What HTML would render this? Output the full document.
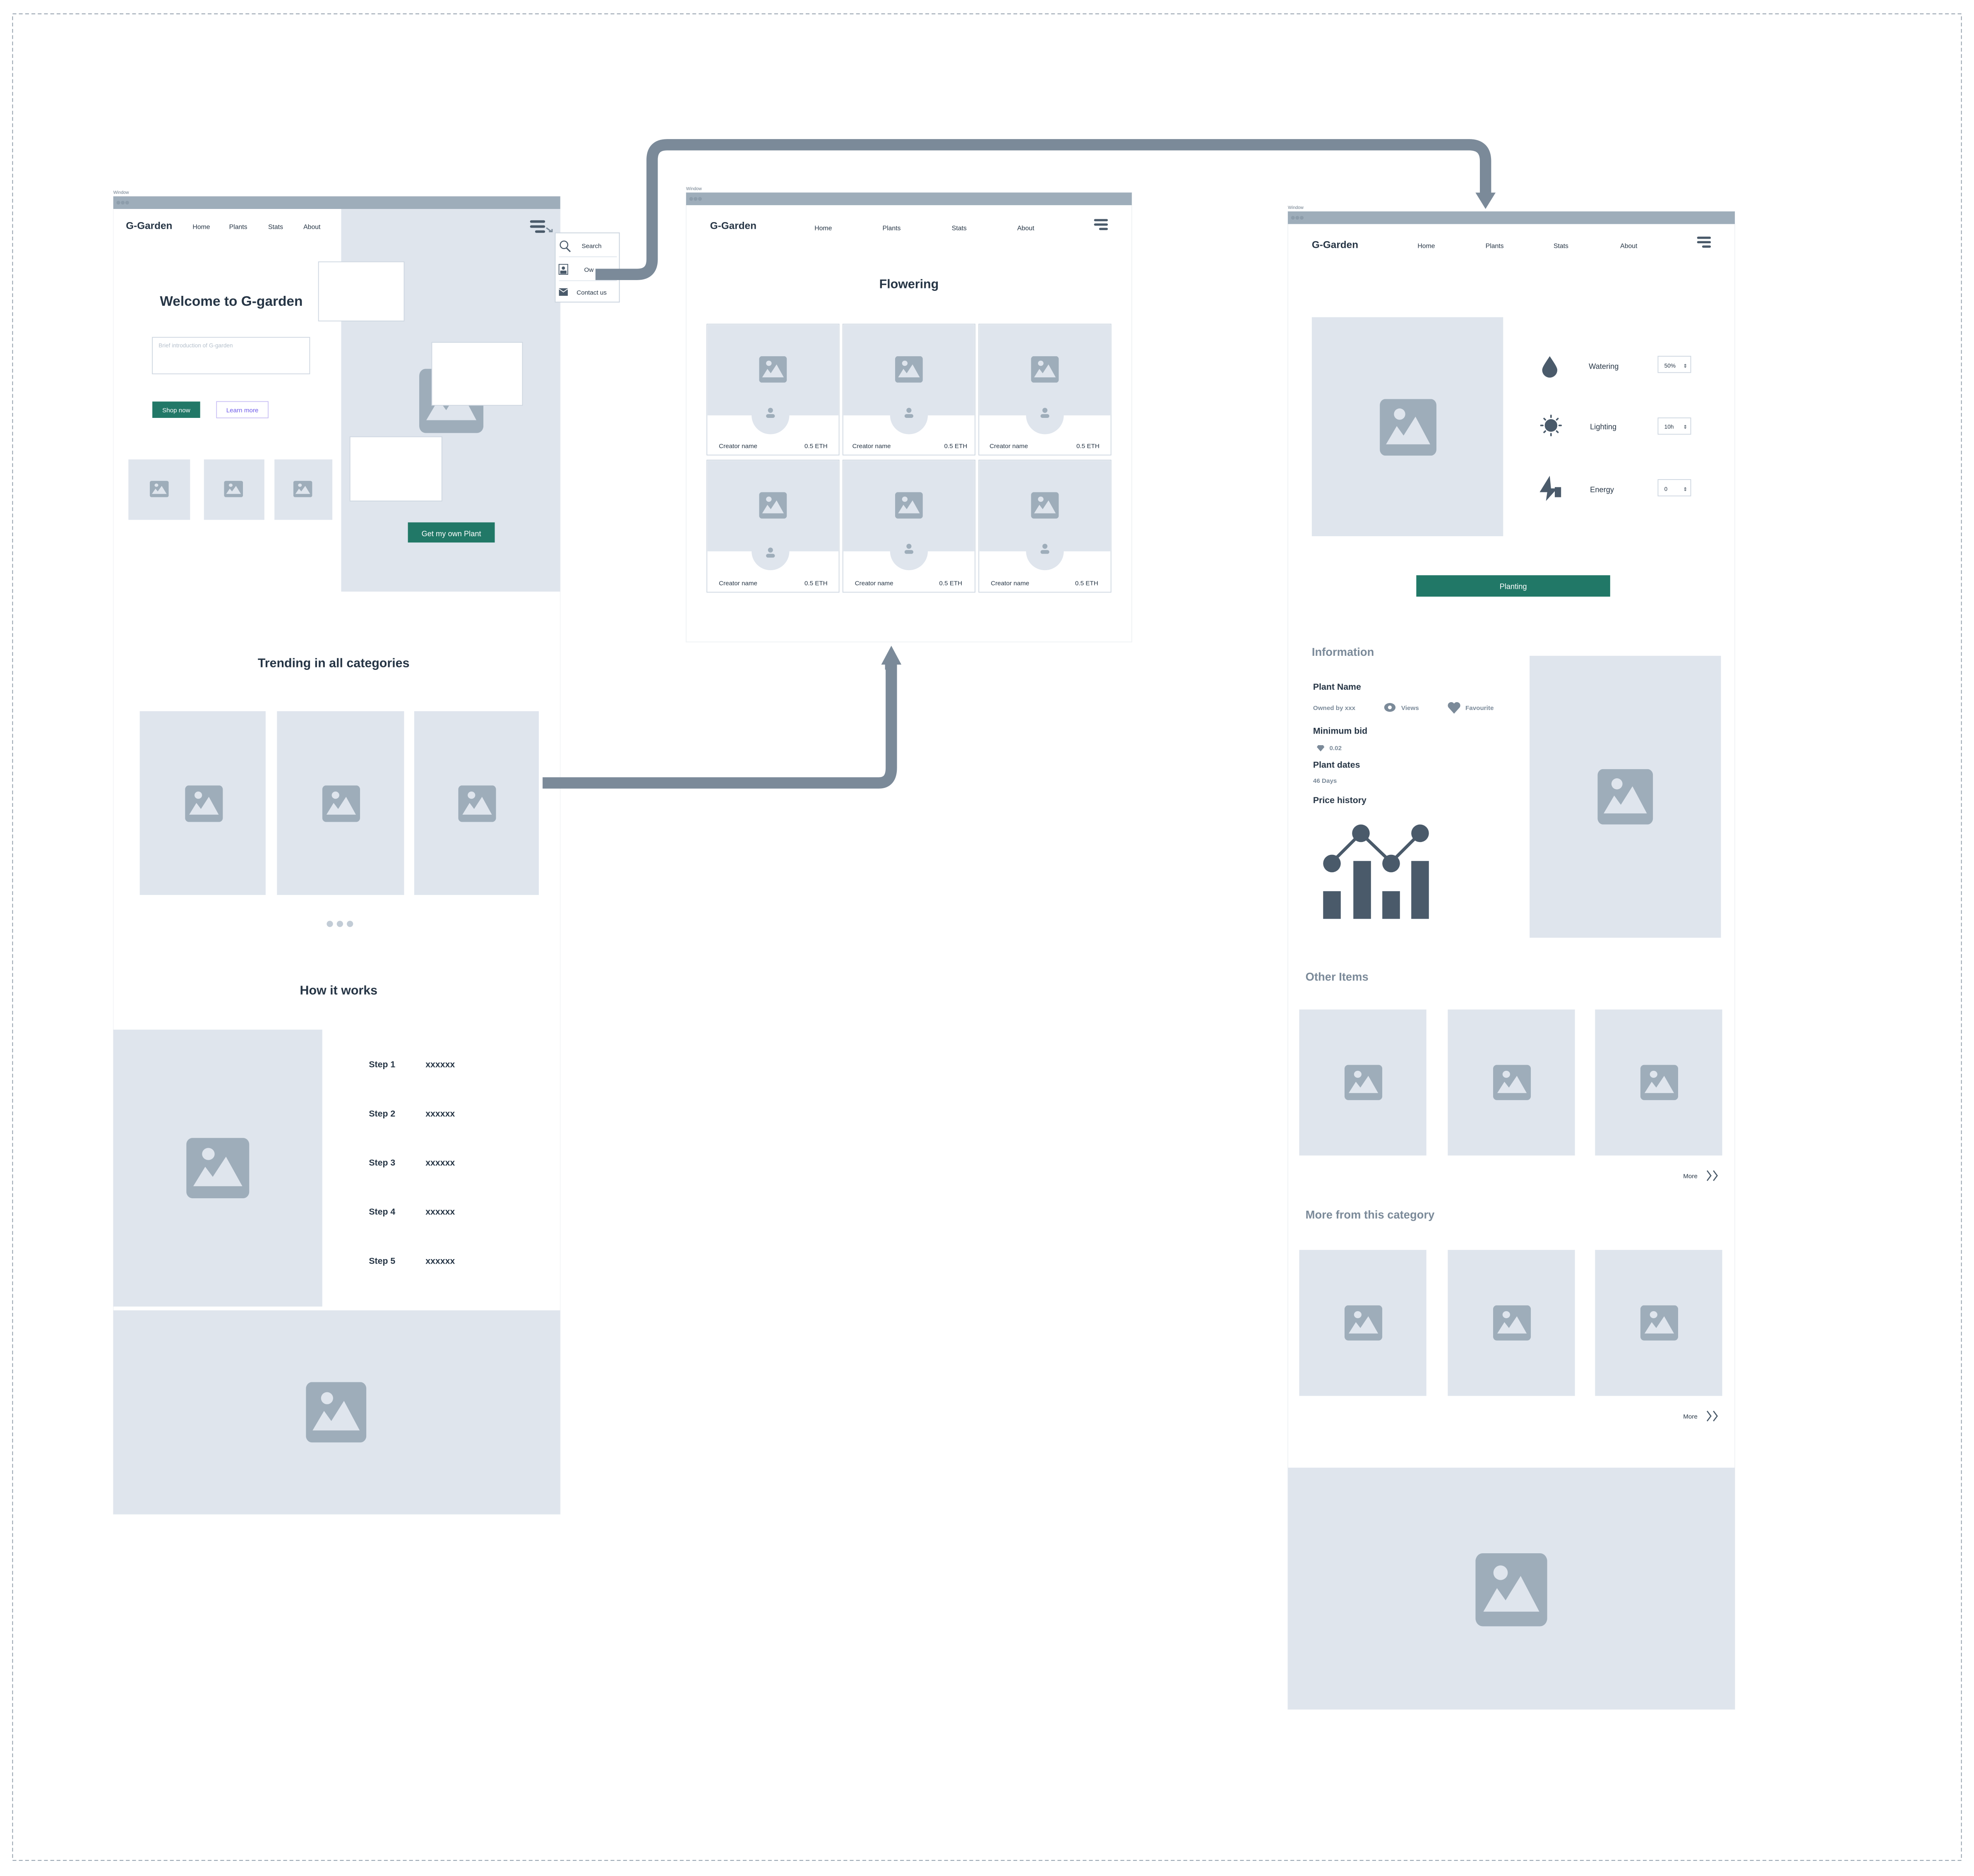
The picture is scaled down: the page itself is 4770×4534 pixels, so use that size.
<!DOCTYPE html>
<html><head><meta charset="utf-8"><style>
html,body{margin:0;padding:0;background:#fff}
svg{display:block}
text{font-family:"Liberation Sans Narrow","Liberation Sans",sans-serif}
.b{font-weight:bold}
</style></head><body>
<svg width="4770" height="4534" viewBox="0 0 1568 1490.4" preserveAspectRatio="none" xmlns="http://www.w3.org/2000/svg">
<defs>
<symbol id="img" viewBox="0 0 100 90" preserveAspectRatio="none">
<rect x="0" y="0" width="100" height="90" rx="10" fill="#9eadba"/>
<ellipse cx="35" cy="24" rx="10" ry="9" fill="#dfe5ed"/>
<polygon points="11,72 30,43 42,58 63,28 89,72" fill="#dfe5ed"/>
</symbol>
<symbol id="user" viewBox="0 0 20 20">
<circle cx="10" cy="6" r="4" fill="#9eadba"/>
<rect x="3" y="12" width="14" height="6" rx="3" fill="#9eadba"/>
</symbol>
</defs>
<rect x="0" y="0" width="1568" height="1490.4" fill="#fff"/>
<rect x="10" y="11" width="1548" height="1467" fill="none" stroke="#8a97a5" stroke-width="0.6" stroke-dasharray="3,2"/>

<!-- WINDOW 1 -->
<text x="90" y="154" font-size="3.5" fill="#6b7a89">Window</text>
<rect x="90" y="156" width="355" height="1047" fill="#fff" stroke="#f1f3f5" stroke-width="0.5"/>
<rect x="90" y="156" width="355" height="10" fill="#9eadba"/>
<circle cx="94" cy="161" r="1.5" fill="#8d9dab"/><circle cx="97.5" cy="161" r="1.5" fill="#8d9dab"/><circle cx="101" cy="161" r="1.5" fill="#8d9dab"/>
<rect x="271" y="166" width="174" height="304" fill="#dfe5ed"/>
<text x="100" y="182" font-size="8" class="b" fill="#263545">G-Garden</text>
<text x="153" y="182" font-size="5.2" fill="#263545">Home</text>
<text x="182" y="182" font-size="5.2" fill="#263545">Plants</text>
<text x="213" y="182" font-size="5.2" fill="#263545">Stats</text>
<text x="241" y="182" font-size="5.2" fill="#263545">About</text>
<rect x="421" y="175" width="12" height="2" rx="1" fill="#4a5a6a"/><rect x="421" y="179" width="12" height="2" rx="1" fill="#4a5a6a"/><rect x="425" y="183" width="8" height="2" rx="1" fill="#4a5a6a"/>
<path d="M434 181 L438 184 M436 184 H438.5 V182" stroke="#7b8a99" stroke-width="1" fill="none"/>
<!-- image under boxes -->
<use href="#img" x="333" y="293" width="51" height="51"/>
<rect x="253" y="208" width="68" height="47" fill="#fff" stroke="#cdd6e0" stroke-width="0.6"/>
<rect x="343" y="272" width="72" height="50" fill="#fff" stroke="#cdd6e0" stroke-width="0.6"/>
<rect x="278" y="347" width="73" height="51" fill="#fff" stroke="#cdd6e0" stroke-width="0.6"/>
<text x="127" y="243" font-size="11" class="b" fill="#263545">Welcome to G-garden</text>
<rect x="121" y="268" width="125" height="29" fill="#fff" stroke="#cdd6e0" stroke-width="0.6"/>
<text x="126" y="276" font-size="4.5" fill="#b5c0cc">Brief introduction of G-garden</text>
<rect x="121" y="319" width="38" height="13" fill="#217867"/>
<text x="140" y="327.5" font-size="5" fill="#fff" text-anchor="middle">Shop now</text>
<rect x="172" y="319" width="41" height="13" fill="#fff" stroke="#c9c0f4" stroke-width="0.6"/>
<text x="192.5" y="327.5" font-size="5" fill="#6b57e8" text-anchor="middle">Learn more</text>
<rect x="102" y="365" width="49" height="48" fill="#dfe5ed"/><use href="#img" x="119" y="382" width="15" height="13"/>
<rect x="162" y="365" width="48" height="48" fill="#dfe5ed"/><use href="#img" x="178" y="382" width="15" height="13"/>
<rect x="218" y="365" width="46" height="48" fill="#dfe5ed"/><use href="#img" x="233" y="382" width="15" height="13"/>
<rect x="324" y="415" width="69" height="16" fill="#217867"/>
<text x="358.5" y="426" font-size="6" fill="#fff" text-anchor="middle">Get my own Plant</text>
<!-- dropdown -->
<rect x="441" y="185" width="51" height="55" fill="#fff" stroke="#cdd6e0" stroke-width="0.7"/>
<circle cx="448" cy="194.5" r="3" fill="none" stroke="#4a5a6a" stroke-width="0.8"/><path d="M450 197 L453 200" stroke="#4a5a6a" stroke-width="1"/>
<text x="462" y="197" font-size="5" fill="#263545">Search</text>
<line x1="444" y1="204" x2="490" y2="204" stroke="#dfe5ed" stroke-width="0.6"/>
<rect x="444" y="210" width="7" height="8" fill="none" stroke="#4a5a6a" stroke-width="0.6"/><circle cx="447.5" cy="213" r="1.3" fill="#4a5a6a"/><rect x="445" y="215" width="5" height="2.5" fill="#4a5a6a"/>
<text x="464" y="216" font-size="5" fill="#263545">Ow</text>
<line x1="444" y1="223" x2="490" y2="223" stroke="#dfe5ed" stroke-width="0.6"/>
<rect x="444" y="229" width="7" height="6" fill="#4a5a6a"/><path d="M444 229.5 L447.5 232 L451 229.5" stroke="#fff" stroke-width="0.6" fill="none"/>
<text x="458" y="234" font-size="5" fill="#263545">Contact us</text>
<text x="265" y="530" font-size="10" class="b" fill="#263545" text-anchor="middle">Trending in all categories</text>
<rect x="111" y="565" width="100" height="146" fill="#dfe5ed"/><use href="#img" x="147" y="624" width="30" height="29"/>
<rect x="220" y="565" width="101" height="146" fill="#dfe5ed"/><use href="#img" x="256" y="624" width="30" height="29"/>
<rect x="329" y="565" width="99" height="146" fill="#dfe5ed"/><use href="#img" x="364" y="624" width="30" height="29"/>
<circle cx="262" cy="734" r="2.5" fill="#c2ccd6"/><circle cx="270" cy="734" r="2.5" fill="#c2ccd6"/><circle cx="278" cy="734" r="2.5" fill="#c2ccd6"/>
<text x="269" y="790" font-size="10" class="b" fill="#263545" text-anchor="middle">How it works</text>
<rect x="90" y="818" width="166" height="220" fill="#dfe5ed"/><use href="#img" x="148" y="904" width="50" height="48"/>
<g font-size="7" class="b" fill="#263545">
<text x="293" y="848">Step 1</text><text x="338" y="848">xxxxxx</text>
<text x="293" y="887">Step 2</text><text x="338" y="887">xxxxxx</text>
<text x="293" y="926">Step 3</text><text x="338" y="926">xxxxxx</text>
<text x="293" y="965">Step 4</text><text x="338" y="965">xxxxxx</text>
<text x="293" y="1004">Step 5</text><text x="338" y="1004">xxxxxx</text>
</g>
<rect x="90" y="1041" width="355" height="162" fill="#dfe5ed"/><use href="#img" x="243" y="1098" width="48" height="48"/>

<!-- WINDOW 2 -->
<text x="545" y="151" font-size="3.5" fill="#6b7a89">Window</text>
<rect x="545" y="153" width="354" height="357" fill="#fff" stroke="#eef1f4" stroke-width="0.6"/>
<rect x="545" y="153" width="354" height="10" fill="#9eadba"/>
<circle cx="549" cy="158" r="1.5" fill="#8d9dab"/><circle cx="552.5" cy="158" r="1.5" fill="#8d9dab"/><circle cx="556" cy="158" r="1.5" fill="#8d9dab"/>
<text x="564" y="182" font-size="8" class="b" fill="#263545">G-Garden</text>
<text x="647" y="183" font-size="5.2" fill="#263545">Home</text>
<text x="701" y="183" font-size="5.2" fill="#263545">Plants</text>
<text x="756" y="183" font-size="5.2" fill="#263545">Stats</text>
<text x="808" y="183" font-size="5.2" fill="#263545">About</text>
<rect x="869" y="174" width="11" height="1.8" rx="0.9" fill="#4a5a6a"/><rect x="869" y="177.5" width="11" height="1.8" rx="0.9" fill="#4a5a6a"/><rect x="873" y="181" width="7" height="1.8" rx="0.9" fill="#4a5a6a"/>
<text x="722" y="229" font-size="10" class="b" fill="#263545" text-anchor="middle">Flowering</text>
<g font-size="5" fill="#263545">
<!-- row 1 -->
<rect x="561.5" y="257.5" width="105" height="104" fill="#fff" stroke="#cdd6e0" stroke-width="0.6"/><rect x="562" y="258" width="104" height="72" fill="#dfe5ed"/><circle cx="612" cy="330" r="15" fill="#dfe5ed"/><use href="#user" x="607" y="323" width="10" height="10"/><use href="#img" x="603" y="283" width="22" height="21"/><text x="571" y="356">Creator name</text><text x="639" y="356">0.5 ETH</text>
<rect x="669.5" y="257.5" width="105" height="104" fill="#fff" stroke="#cdd6e0" stroke-width="0.6"/><rect x="670" y="258" width="104" height="72" fill="#dfe5ed"/><circle cx="722" cy="330" r="15" fill="#dfe5ed"/><use href="#user" x="717" y="323" width="10" height="10"/><use href="#img" x="711" y="283" width="22" height="21"/><text x="677" y="356">Creator name</text><text x="750" y="356">0.5 ETH</text>
<rect x="777.5" y="257.5" width="105" height="104" fill="#fff" stroke="#cdd6e0" stroke-width="0.6"/><rect x="778" y="258" width="104" height="72" fill="#dfe5ed"/><circle cx="830" cy="330" r="15" fill="#dfe5ed"/><use href="#user" x="825" y="323" width="10" height="10"/><use href="#img" x="819" y="283" width="22" height="21"/><text x="786" y="356">Creator name</text><text x="855" y="356">0.5 ETH</text>
<!-- row 2 -->
<rect x="561.5" y="365.5" width="105" height="105" fill="#fff" stroke="#cdd6e0" stroke-width="0.6"/><rect x="562" y="366" width="104" height="72" fill="#dfe5ed"/><circle cx="612" cy="438" r="15" fill="#dfe5ed"/><use href="#user" x="607" y="434" width="10" height="10"/><use href="#img" x="603" y="391" width="22" height="21"/><text x="571" y="465">Creator name</text><text x="639" y="465">0.5 ETH</text>
<rect x="669.5" y="365.5" width="105" height="105" fill="#fff" stroke="#cdd6e0" stroke-width="0.6"/><rect x="670" y="366" width="104" height="72" fill="#dfe5ed"/><circle cx="722" cy="438" r="15" fill="#dfe5ed"/><use href="#user" x="717" y="431" width="10" height="10"/><use href="#img" x="711" y="391" width="22" height="21"/><text x="679" y="465">Creator name</text><text x="746" y="465">0.5 ETH</text>
<rect x="777.5" y="365.5" width="105" height="105" fill="#fff" stroke="#cdd6e0" stroke-width="0.6"/><rect x="778" y="366" width="104" height="72" fill="#dfe5ed"/><circle cx="830" cy="438" r="15" fill="#dfe5ed"/><use href="#user" x="825" y="431" width="10" height="10"/><use href="#img" x="819" y="391" width="22" height="21"/><text x="787" y="465">Creator name</text><text x="854" y="465">0.5 ETH</text>
</g>

<!-- WINDOW 3 -->
<text x="1023" y="166" font-size="3.5" fill="#6b7a89">Window</text>
<rect x="1023" y="168" width="355" height="1190" fill="#fff" stroke="#eef1f4" stroke-width="0.6"/>
<rect x="1023" y="168" width="355" height="10" fill="#9eadba"/>
<circle cx="1027" cy="173" r="1.5" fill="#8d9dab"/><circle cx="1030.5" cy="173" r="1.5" fill="#8d9dab"/><circle cx="1034" cy="173" r="1.5" fill="#8d9dab"/>
<text x="1042" y="197" font-size="8" class="b" fill="#263545">G-Garden</text>
<text x="1126" y="197" font-size="5.2" fill="#263545">Home</text>
<text x="1180" y="197" font-size="5.2" fill="#263545">Plants</text>
<text x="1234" y="197" font-size="5.2" fill="#263545">Stats</text>
<text x="1287" y="197" font-size="5.2" fill="#263545">About</text>
<rect x="1348" y="188" width="11" height="1.8" rx="0.9" fill="#4a5a6a"/><rect x="1348" y="191.5" width="11" height="1.8" rx="0.9" fill="#4a5a6a"/><rect x="1352" y="195" width="7" height="1.8" rx="0.9" fill="#4a5a6a"/>
<rect x="1042" y="252" width="152" height="174" fill="#dfe5ed"/><use href="#img" x="1096" y="317" width="45" height="45"/>
<path d="M1231 283 C1227 289 1225 292 1225 294 A6 6 0 0 0 1237 294 C1237 292 1235 289 1231 283Z" fill="#4a5a6a"/>
<circle cx="1232" cy="338" r="5" fill="#4a5a6a"/>
<g stroke="#4a5a6a" stroke-width="1.2" stroke-linecap="round"><line x1="1232" y1="330" x2="1232" y2="331.5"/><line x1="1232" y1="344.5" x2="1232" y2="346"/><line x1="1224" y1="338" x2="1225.5" y2="338"/><line x1="1238.5" y1="338" x2="1240" y2="338"/><line x1="1226.5" y1="332.5" x2="1227.5" y2="333.5"/><line x1="1236.5" y1="342.5" x2="1237.5" y2="343.5"/><line x1="1237.5" y1="332.5" x2="1236.5" y2="333.5"/><line x1="1226.5" y1="343.5" x2="1227.5" y2="342.5"/></g>
<polygon points="1231,378 1223,391 1229,391 1228,398 1237,388 1232,388" fill="#4a5a6a"/><rect x="1235" y="387" width="5" height="8" fill="#4a5a6a"/>
<text x="1262" y="293" font-size="6" fill="#263545">Watering</text>
<text x="1263" y="341" font-size="6" fill="#263545">Lighting</text>
<text x="1263" y="391" font-size="6" fill="#263545">Energy</text>
<g font-size="4.5" fill="#263545">
<rect x="1317" y="283" width="26" height="13" fill="#fff" stroke="#cdd6e0" stroke-width="0.6"/><text x="1322" y="292">50%</text><text x="1337" y="292" font-size="4">⇕</text>
<rect x="1317" y="332" width="26" height="13" fill="#fff" stroke="#cdd6e0" stroke-width="0.6"/><text x="1322" y="340.5">10h</text><text x="1337" y="340.5" font-size="4">⇕</text>
<rect x="1317" y="381" width="26" height="13" fill="#fff" stroke="#cdd6e0" stroke-width="0.6"/><text x="1322" y="390">0</text><text x="1337" y="390" font-size="4">⇕</text>
</g>
<rect x="1125" y="457" width="154" height="17" fill="#217867"/>
<text x="1202" y="468" font-size="6" fill="#fff" text-anchor="middle">Planting</text>
<text x="1042" y="521" font-size="9" class="b" fill="#7b8a99">Information</text>
<text x="1043" y="548" font-size="7" class="b" fill="#263545">Plant Name</text>
<text x="1043" y="564" font-size="5" class="b" fill="#7b8a99">Owned by xxx</text>
<ellipse cx="1104" cy="562" rx="4.5" ry="3.5" fill="#7b8a99"/><circle cx="1104" cy="562" r="1.5" fill="#fff"/>
<text x="1113" y="564" font-size="5" class="b" fill="#7b8a99">Views</text>
<path d="M1155 567 L1150.5 562 A2.5 2.5 0 0 1 1155 559 A2.5 2.5 0 0 1 1159.5 562Z" fill="#7b8a99"/>
<text x="1164" y="564" font-size="5" class="b" fill="#7b8a99">Favourite</text>
<text x="1043" y="583" font-size="7" class="b" fill="#263545">Minimum bid</text>
<polygon points="1047,592 1051,592 1052,593.5 1049,597 1046,593.5" fill="#7b8a99"/>
<text x="1056" y="596" font-size="5" class="b" fill="#7b8a99">0.02</text>
<text x="1043" y="610" font-size="7" class="b" fill="#263545">Plant dates</text>
<text x="1043" y="622" font-size="5" class="b" fill="#7b8a99">46 Days</text>
<text x="1043" y="638" font-size="7" class="b" fill="#263545">Price history</text>
<g fill="#4a5a6a">
<rect x="1051" y="708" width="14" height="22"/><rect x="1075" y="684" width="14" height="46"/><rect x="1098" y="708" width="14" height="22"/><rect x="1121" y="684" width="14" height="46"/>
<path d="M1058 685 L1081 662 L1105 685 L1128 662" stroke="#4a5a6a" stroke-width="2.5" fill="none"/>
<circle cx="1058" cy="686" r="7"/><circle cx="1081" cy="662" r="7"/><circle cx="1105" cy="686" r="7"/><circle cx="1128" cy="662" r="7"/>
</g>
<rect x="1215" y="521" width="152" height="224" fill="#dfe5ed"/><use href="#img" x="1269" y="611" width="44" height="44"/>
<text x="1037" y="779" font-size="9" class="b" fill="#7b8a99">Other Items</text>
<rect x="1032" y="802" width="101" height="116" fill="#dfe5ed"/><use href="#img" x="1068" y="846" width="30" height="28"/>
<rect x="1150" y="802" width="101" height="116" fill="#dfe5ed"/><use href="#img" x="1186" y="846" width="30" height="28"/>
<rect x="1267" y="802" width="101" height="116" fill="#dfe5ed"/><use href="#img" x="1303" y="846" width="30" height="28"/>
<text x="1337" y="936" font-size="5" fill="#263545">More</text>
<path d="M1356 930 L1359 934 L1356 938 M1361 930 L1364 934 L1361 938" stroke="#4a5a6a" stroke-width="0.9" fill="none"/>
<text x="1037" y="968" font-size="9" class="b" fill="#7b8a99">More from this category</text>
<rect x="1032" y="993" width="101" height="116" fill="#dfe5ed"/><use href="#img" x="1068" y="1037" width="30" height="28"/>
<rect x="1150" y="993" width="101" height="116" fill="#dfe5ed"/><use href="#img" x="1186" y="1037" width="30" height="28"/>
<rect x="1267" y="993" width="101" height="116" fill="#dfe5ed"/><use href="#img" x="1303" y="1037" width="30" height="28"/>
<text x="1337" y="1127" font-size="5" fill="#263545">More</text>
<path d="M1356 1121 L1359 1125 L1356 1129 M1361 1121 L1364 1125 L1361 1129" stroke="#4a5a6a" stroke-width="0.9" fill="none"/>
<rect x="1023" y="1166" width="355" height="192" fill="#dfe5ed"/><use href="#img" x="1172" y="1234" width="57" height="58"/>

<!-- CONNECTORS -->
<path d="M473 218 H506 Q518 218 518 206 V127 Q518 115 530 115 H1167 Q1180 115 1180 128 V154" stroke="#7b8a99" stroke-width="9" fill="none"/>
<polygon points="1172,153 1188,153 1180,166" fill="#7b8a99"/>
<path d="M431 622 H698 Q708 622 708 610 V527" stroke="#7b8a99" stroke-width="9" fill="none" />
<rect x="703" y="527" width="9" height="5" fill="#7b8a99"/>
<polygon points="700,528 716,528 708,513" fill="#7b8a99"/>
</svg>
</body></html>
